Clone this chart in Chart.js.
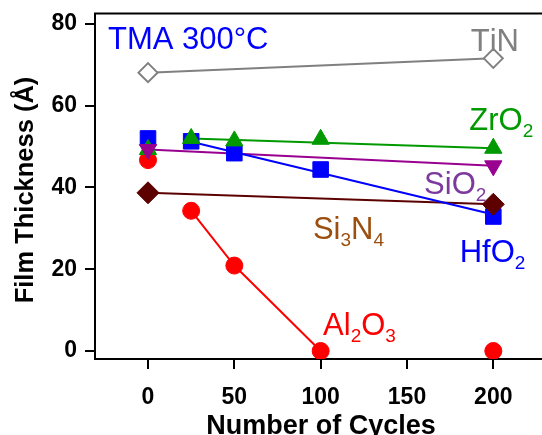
<!DOCTYPE html>
<html>
<head>
<meta charset="utf-8">
<script src="https://cdn.jsdelivr.net/npm/chart.js@4.4.1/dist/chart.umd.min.js"></script>
<style>
  html, body { margin: 0; padding: 0; background: #fff; }
  #chart { display: block; }
</style>
</head>
<body>
<canvas id="chart" width="542" height="435"></canvas>
<script>
// ── data ────────────────────────────────────────────────────────────────────
const cyclesFull = [0, 25, 50, 100, 200];
const cyclesEnds = [0, 200];

const hfo2 = [52.0, 51.3, 48.4, 44.4, 32.9];
const zro2 = [49.3, 52.0, 51.4, 51.8, 49.6];
const al2o3 = [46.7, 34.3, 20.9, 0, 0];
const sio2 = [49.3, 45.3];
const si3n4 = [38.7, 35.9];
const tin = [68.1, 71.6];

// straight fit lines (drawn from 25 cycles on)
const fitCycles = [25, 200];
const zro2Fit = [52.0, 49.6];
const hfo2Fit = [51.2, 33.4];
const al2o3LineCycles = [25, 50, 100];
const al2o3Line = [34.3, 20.9, 0];

const xTicks = [0, 50, 100, 150, 200];
const yTicks = [0, 20, 40, 60, 80];

// text labels inside the plot ('_' marks the next digit as subscript)
const labelText = ['TMA 300°C', 'TiN', 'ZrO_2', 'SiO_2', 'Si_3N_4', 'HfO_2', 'Al_2O_3'];
const labelX = [-23.2, 186.9, 186.1, 159.9, 95.5, 180.5, 101.4];
const labelY = [73.8, 73.5, 54.1, 38.4, 27.5, 21.7, 4.0];
const labelColor = ['#0000ff', '#808080', '#009a00', '#7d3a9e', '#9b4e0e', '#0000ff', '#ff0000'];

const FONT = "'Liberation Sans', Arial, sans-serif";

const pts = (xs, ys) => xs.map((x, i) => ({ x, y: ys[i] }));

// ── plugin: top frame line, axis titles and in-plot labels ──────────────────
const decorations = {
  id: 'decorations',
  afterDraw(chart) {
    const { ctx, chartArea, scales } = chart;
    ctx.save();

    // top frame (right edge runs off the picture)
    ctx.strokeStyle = '#000';
    ctx.lineWidth = 2;
    ctx.beginPath();
    ctx.moveTo(chartArea.left - 1, chartArea.top);
    ctx.lineTo(chart.width, chartArea.top);
    ctx.stroke();

    // axis titles
    ctx.fillStyle = '#000';
    ctx.font = `bold 27px ${FONT}`;
    ctx.textAlign = 'center';
    ctx.textBaseline = 'alphabetic';
    ctx.fillText('Number of Cycles', 321, 434);

    ctx.save();
    ctx.translate(33, 190);
    ctx.rotate(-Math.PI / 2);
    ctx.font = `bold 25.5px ${FONT}`;
    ctx.fillText('Film Thickness (Å)', 0, 0);
    ctx.restore();

    // labels with subscripts
    ctx.textAlign = 'left';
    labelText.forEach((txt, i) => {
      let x = scales.x.getPixelForValue(labelX[i]);
      const y = scales.y.getPixelForValue(labelY[i]);
      ctx.fillStyle = labelColor[i];
      for (let k = 0; k < txt.length; k++) {
        let ch = txt[k];
        let sub = false;
        if (ch === '_') { sub = true; k++; ch = txt[k]; }
        ctx.font = sub ? `19px ${FONT}` : `31px ${FONT}`;
        ctx.fillText(ch, x, sub ? y + 7 : y);
        x += ctx.measureText(ch).width;
      }
    });

    ctx.restore();
  },
};

const markerDefaults = { showLine: false, borderWidth: 1 };
const lineDefaults = { showLine: true, pointRadius: 0, borderWidth: 2, pointHoverRadius: 0 };

// fixed axis boxes, no extra padding for tick labels
const noPad = (scale) => {
  scale.paddingTop = 0;
  scale.paddingBottom = 0;
  scale.paddingLeft = 0;
  scale.paddingRight = 0;
};

new Chart(document.getElementById('chart'), {
  type: 'scatter',
  data: {
    datasets: [
      // markers (lower order draws on top)
      { ...markerDefaults, label: 'SiO2', data: pts(cyclesEnds, sio2), pointStyle: 'triangle', rotation: 180,
        pointRadius: 10, backgroundColor: '#990090', borderColor: '#990090', order: 1 },
      { ...markerDefaults, label: 'ZrO2', data: pts(cyclesFull, zro2), pointStyle: 'triangle',
        pointRadius: 10, backgroundColor: '#009a00', borderColor: '#009a00', order: 2 },
      { ...markerDefaults, label: 'Si3N4', data: pts(cyclesEnds, si3n4), pointStyle: 'rectRot',
        pointRadius: 11, backgroundColor: '#5c0000', borderColor: '#5c0000', order: 3 },
      { ...markerDefaults, label: 'HfO2', data: pts(cyclesFull, hfo2), pointStyle: 'rect',
        pointRadius: 11, backgroundColor: '#0000ff', borderColor: '#0000ff', order: 4 },
      { ...markerDefaults, label: 'Al2O3', data: pts(cyclesFull, al2o3), pointStyle: 'circle',
        pointRadius: 8.5, backgroundColor: '#ff0000', borderColor: '#ff0000', order: 5 },
      { ...markerDefaults, label: 'TiN', data: pts(cyclesEnds, tin), pointStyle: 'rectRot',
        pointRadius: 9.5, backgroundColor: '#ffffff', borderColor: '#808080', borderWidth: 2, order: 6 },

      // lines
      { ...lineDefaults, data: pts(cyclesEnds, tin), borderColor: '#808080', order: 20 },
      { ...lineDefaults, data: pts(cyclesEnds, si3n4), borderColor: '#5c0000', order: 21 },
      { ...lineDefaults, data: pts(cyclesEnds, sio2), borderColor: '#990090', order: 22 },
      { ...lineDefaults, data: pts(fitCycles, zro2Fit), borderColor: '#009a00', order: 23 },
      { ...lineDefaults, data: pts(fitCycles, hfo2Fit), borderColor: '#0000ff', order: 19 },
      { ...lineDefaults, data: pts(al2o3LineCycles, al2o3Line), borderColor: '#ff0000', order: 24 },
    ],
  },
  options: {
    responsive: false,
    animation: false,
    events: [],
    layout: { autoPadding: false, padding: { left: 0, top: 13.5, right: 0, bottom: 0 } },
    plugins: {
      legend: { display: false },
      tooltip: { enabled: false },
    },
    scales: {
      x: {
        type: 'linear',
        min: -30.7,
        max: 228.2,
        afterBuildTicks: (scale) => { scale.ticks = xTicks.map(v => ({ value: v })); },
        afterFit: (scale) => { scale.height = 76; noPad(scale); },
        border: { display: true, color: '#000', width: 2 },
        grid: { drawOnChartArea: false, drawTicks: true, tickLength: 10, color: '#000', lineWidth: 2 },
        ticks: {
          color: '#000',
          padding: 15,
          maxRotation: 0,
          font: { family: FONT, size: 23, weight: 'bold' },
        },
      },
      y: {
        type: 'linear',
        min: -1.96,
        max: 82.57,
        afterBuildTicks: (scale) => { scale.ticks = yTicks.map(v => ({ value: v })); },
        afterFit: (scale) => { scale.width = 95; noPad(scale); },
        border: { display: true, color: '#000', width: 2 },
        grid: { drawOnChartArea: false, drawTicks: true, tickLength: 10, color: '#000', lineWidth: 2 },
        ticks: {
          color: '#000',
          padding: 8,
          font: { family: FONT, size: 23, weight: 'bold' },
        },
      },
    },
  },
  plugins: [decorations],
});
</script>
</body>
</html>
